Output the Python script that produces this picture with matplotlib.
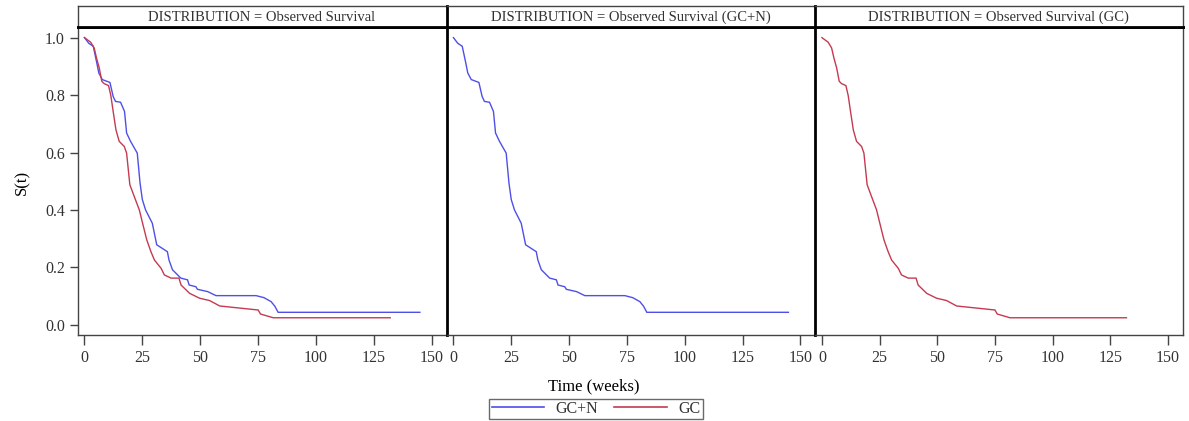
import matplotlib
matplotlib.use("Agg")
import matplotlib.pyplot as plt
from matplotlib.lines import Line2D

# -----------------------------
# Data
# -----------------------------
t_gcn = [0, 1.9, 3.8, 5.2, 6.2, 7.7, 11.0, 12.4, 13.4, 15.6, 17.3, 18.2, 19.9, 22.8,
         24.0, 25.0, 26.4, 29.3, 31.2, 35.8, 36.5, 38.0, 41.6, 44.5, 45.2, 48.1, 48.8,
         53.2, 56.8, 74.1, 77.5, 80.6, 82.2, 83.6, 144.8]
s_gcn = [1.0, 0.98, 0.97, 0.917, 0.877, 0.854, 0.844, 0.795, 0.778, 0.775, 0.743, 0.668,
         0.639, 0.598, 0.494, 0.436, 0.40, 0.354, 0.279, 0.255, 0.226, 0.192, 0.163, 0.157,
         0.139, 0.133, 0.124, 0.116, 0.102, 0.102, 0.095, 0.081, 0.065, 0.044, 0.044]

t_gc = [0, 2.7, 4.2, 5.2, 6.4, 7.5, 8.5, 10.4, 11.4, 12.4, 13.6, 15.0, 17.2, 18.2, 19.6,
        21.5, 23.7, 25.1, 26.9, 28.7, 30.2, 33.1, 34.5, 37.4, 40.8, 41.7, 45.4, 49.7,
        54.0, 58.4, 75.0, 76.0, 81.5, 132.0]
s_gc = [1.0, 0.984, 0.964, 0.929, 0.894, 0.848, 0.84, 0.833, 0.798, 0.743, 0.679, 0.639,
        0.621, 0.598, 0.488, 0.447, 0.40, 0.354, 0.296, 0.255, 0.226, 0.197, 0.174, 0.163,
        0.163, 0.139, 0.110, 0.093, 0.085, 0.066, 0.052, 0.038, 0.025, 0.025]

panel_titles = ["DISTRIBUTION = Observed Survival",
                "DISTRIBUTION = Observed Survival (GC+N)",
                "DISTRIBUTION = Observed Survival (GC)"]
x_ticks = [0, 25, 50, 75, 100, 125, 150]
y_ticks = [0.0, 0.2, 0.4, 0.6, 0.8, 1.0]

BLUE = "#4f4fe8"
RED = "#c53a50"
GRAY = "#444444"
TXT = "#333333"

plt.rcParams["font.family"] = ["Liberation Serif", "DejaVu Serif"]

# -----------------------------
# Layout (pixel based)
# -----------------------------
W, H = 1189, 421
fig = plt.figure(figsize=(W / 100, H / 100), dpi=100)

lefts = [77.5, 446.5, 815.0]
rights = [446.5, 815.0, 1182.5]
plot_top, plot_bot = 26.7, 335.0
head_top = 5.5

series = [[(t_gcn, s_gcn, BLUE), (t_gc, s_gc, RED)],
          [(t_gcn, s_gcn, BLUE)],
          [(t_gc, s_gc, RED)]]

for i in range(3):
    x0 = lefts[i] / W
    w = (rights[i] - lefts[i]) / W
    ax = fig.add_axes([x0, 1 - plot_bot / H, w, (plot_bot - plot_top) / H])
    hx = fig.add_axes([x0, 1 - plot_top / H, w, (plot_top - head_top) / H])

    for t, s, c in series[i]:
        ax.plot(t, s, color=c, lw=1.0, solid_joinstyle="miter")

    ax.set_xlim(-3.0, 156.3)
    ax.set_ylim(-0.035, 1.038)
    ax.set_xticks(x_ticks)
    ax.set_yticks(y_ticks)
    ax.tick_params(axis="both", direction="out", color=GRAY, labelcolor=TXT,
                   labelsize=11.5, width=1.0)
    ax.tick_params(axis="x", length=7, pad=4)
    ax.tick_params(axis="y", length=6, pad=3)
    if i == 0:
        ax.set_yticklabels([f"{v:.1f}" for v in y_ticks])
    else:
        ax.tick_params(axis="y", left=False, labelleft=False)

    for sp in ax.spines.values():
        sp.set_color(GRAY)
        sp.set_linewidth(1.0)
    ax.spines["top"].set_color("black")
    ax.spines["top"].set_linewidth(2.0)
    if i > 0:
        ax.spines["left"].set_color("black")
        ax.spines["left"].set_linewidth(2.0)
    if i < 2:
        ax.spines["right"].set_visible(False)

    hx.set_xticks([])
    hx.set_yticks([])
    for sp in hx.spines.values():
        sp.set_color(GRAY)
        sp.set_linewidth(1.0)
    hx.spines["bottom"].set_color("black")
    hx.spines["bottom"].set_linewidth(2.0)
    if i > 0:
        hx.spines["left"].set_color("black")
        hx.spines["left"].set_linewidth(2.0)
    if i < 2:
        hx.spines["right"].set_visible(False)
    hx.text(0.5, 0.45, panel_titles[i], ha="center", va="center",
            fontsize=10.5, color=TXT, transform=hx.transAxes)

# -----------------------------
# Labels and legend
# -----------------------------
fig.text(594 / W, 1 - 386 / H, "Time (weeks)", ha="center", va="center",
         fontsize=12, color="black")
fig.text(22 / W, 1 - 182 / H, "S(t)", ha="center", va="center",
         rotation=90, fontsize=12, color="black")

handles = [Line2D([], [], color=BLUE, lw=1.2), Line2D([], [], color=RED, lw=1.2)]
leg = fig.legend(handles, ["GC+N", "GC"], loc="center",
                 bbox_to_anchor=(596 / W, 1 - 409 / H), ncol=2, fontsize=11.5,
                 frameon=True, fancybox=False, handlelength=3.3, handletextpad=0.7,
                 columnspacing=1.0, borderpad=0.15, borderaxespad=0)
leg.get_frame().set_edgecolor(GRAY)
leg.get_frame().set_linewidth(1.0)
for txt in leg.get_texts():
    txt.set_color(TXT)

fig.savefig("out.png", dpi=100)
plt.close(fig)
